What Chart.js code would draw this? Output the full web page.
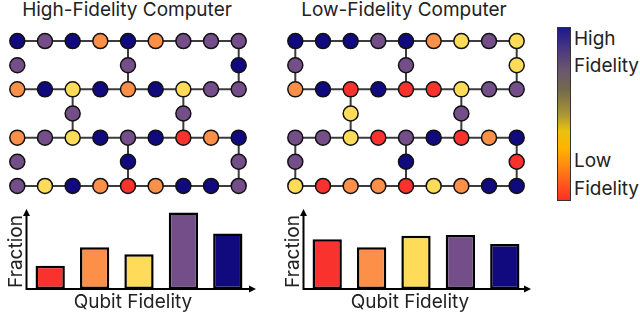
<!DOCTYPE html>
<html>
<head>
<meta charset="utf-8">
<script src="https://cdn.jsdelivr.net/npm/chart.js@4.4.0/dist/chart.umd.min.js"></script>
<style>
  body { margin:0; width:640px; height:330px; background:#fff; position:relative; overflow:hidden; font-family:Inter, "Noto Sans", sans-serif; color:#222; }
  canvas { position:absolute; }
  .lbl { position:absolute; font-size:19px; line-height:19px; white-space:nowrap; }
  .title { position:absolute; font-size:19px; line-height:19px; white-space:nowrap; transform:translateX(-50%); }
  #cbar { position:absolute; left:557px; top:27px; width:12px; height:172px; border:1px solid #333;
    background:linear-gradient(to bottom, #1c1a8c 0%, #4a3580 12%, #6a5570 24%, #736a4c 36%, #a99436 50%, #e9c20e 60%, #ffb300 70%, #ff8a10 80%, #ff5a1e 90%, #ff2e22 100%); }
</style>
</head>
<body>
<div class="title" style="left:127px; top:0;">High-Fidelity Computer</div>
<div class="title" style="left:404px; top:0;">Low-Fidelity Computer</div>
<canvas id="gridHigh" width="256" height="187" style="left:0; top:20px;"></canvas>
<canvas id="gridLow" width="256" height="187" style="left:278px; top:20px;"></canvas>
<canvas id="barHigh" width="262" height="122" style="left:0; top:200px;"></canvas>
<canvas id="barLow" width="262" height="122" style="left:277px; top:200px;"></canvas>
<div id="cbar"></div>
<div class="lbl" style="left:574px; top:29px;">High</div>
<div class="lbl" style="left:574px; top:56px;">Fidelity</div>
<div class="lbl" style="left:574px; top:151px;">Low</div>
<div class="lbl" style="left:574px; top:179px;">Fidelity</div>
<script>
// =======================
// Data
// =======================
// fidelity levels, low -> high
const levels = ['R', 'O', 'Y', 'P', 'N'];
const levelColors = ['#f9322d', '#fd9049', '#fedc59', '#744e89', '#110a7f'];

// which columns hold a qubit on each row of the lattice
const rowCols = [
  [0,1,2,3,4,5,6,7,8],
  [0,4,8],
  [0,1,2,3,4,5,6,7,8],
  [2,6],
  [0,1,2,3,4,5,6,7,8],
  [0,4,8],
  [0,1,2,3,4,5,6,7,8]
];

// qubit fidelity level per row (same order as rowCols)
const highRows = ['NPNONOPPP', 'PPN', 'ONYNONYPP', 'PP', 'OPYNPNRON', 'PNP', 'PYNORONNP'];
const lowRows  = ['NNNPNOYPY', 'PPY', 'ONRNRRYPP', 'YP', 'PPYRPNRON', 'PNR', 'YROORYONN'];

// couplers: full rows, plus vertical links [col, fromRow, toRow]
const couplerRows = [0, 2, 4, 6];
const highLinks = [[4,0,2],[8,0,2],[2,2,4],[6,2,4],[4,4,6],[8,4,6]];
const lowLinks  = [[0,0,2],[4,0,2],[8,0,2],[2,2,4],[6,2,4],[0,4,6],[4,4,6],[8,4,6]];

// fidelity histograms
const binLabels = ['Low', 'Mid-low', 'Mid', 'Mid-high', 'High'];
const highFractions = [0.10, 0.18, 0.15, 0.33, 0.24];
const lowFractions  = [0.215, 0.18, 0.23, 0.233, 0.194];

// =======================
// Lattice charts
// =======================
function buildGrid(canvasId, rows, links) {
  const pts = [], cols = [];
  rowCols.forEach((cs, r) => {
    cs.forEach((c, i) => {
      pts.push({ x: c, y: r });
      cols.push(levelColors[levels.indexOf(rows[r][i])]);
    });
  });

  const edgeSets = [];
  couplerRows.forEach(r => {
    edgeSets.push(rowCols[r].map(c => ({ x: c, y: r })));
  });
  links.forEach(([c, a, b]) => {
    const chain = [];
    for (let r = a; r <= b; r++) chain.push({ x: c, y: r });
    edgeSets.push(chain);
  });

  const datasets = [{
    type: 'scatter', data: pts, order: 0, clip: false,
    pointRadius: 7.5, pointHoverRadius: 7.5,
    pointBackgroundColor: cols, pointBorderColor: '#111', pointBorderWidth: 1.5
  }];
  edgeSets.forEach(chain => datasets.push({
    type: 'line', data: chain, order: 1, clip: false,
    borderColor: '#3c3c3c', borderWidth: 2, pointRadius: 0, fill: false
  }));

  new Chart(document.getElementById(canvasId), {
    type: 'scatter',
    data: { datasets },
    options: {
      responsive: false, animation: false,
      layout: { padding: 0 },
      plugins: { legend: { display: false }, tooltip: { enabled: false } },
      scales: {
        x: { type: 'linear', min: -0.3, max: 8.3, display: false },
        y: { type: 'linear', min: -0.5, max: 6.5, reverse: true, display: false }
      }
    }
  });
}

// =======================
// Arrow axes + titles for the histograms
// =======================
const arrowAxes = {
  id: 'arrowAxes',
  afterDatasetsDraw(chart, args, o) {
    const { ctx, chartArea: { left, right, top, bottom } } = chart;
    const x0 = left + o.axisShift;
    const xEnd = right + o.xReach;
    ctx.save();
    ctx.strokeStyle = '#000';
    ctx.fillStyle = '#000';
    ctx.lineWidth = 2;
    ctx.beginPath();
    ctx.moveTo(x0, bottom);
    ctx.lineTo(x0, top + 4);
    ctx.moveTo(x0 - 1, bottom);
    ctx.lineTo(xEnd - 4, bottom);
    ctx.stroke();
    ctx.beginPath();
    ctx.moveTo(x0, top - 2);
    ctx.lineTo(x0 - 3.5, top + 5);
    ctx.lineTo(x0 + 3.5, top + 5);
    ctx.closePath();
    ctx.fill();
    ctx.beginPath();
    ctx.moveTo(xEnd + 1, bottom);
    ctx.lineTo(xEnd - 6, bottom - 3.5);
    ctx.lineTo(xEnd - 6, bottom + 3.5);
    ctx.closePath();
    ctx.fill();

    ctx.fillStyle = '#222';
    ctx.font = '19px Inter, "Noto Sans", sans-serif';
    ctx.textAlign = 'center';
    ctx.textBaseline = 'alphabetic';
    ctx.fillText(o.xTitle, (left + right) / 2 + o.xTitleShift, bottom + 19);
    ctx.translate(x0 + o.yTitleShift, (top + bottom) / 2 + 1.5);
    ctx.rotate(-Math.PI / 2);
    ctx.fillText(o.yTitle, 0, 0);
    ctx.restore();
  }
};

function buildBars(canvasId, values, xReach, yTitleShift) {
  new Chart(document.getElementById(canvasId), {
    type: 'bar',
    data: {
      labels: binLabels,
      datasets: [{
        data: values,
        backgroundColor: levelColors,
        borderColor: '#000',
        borderWidth: 2.5,
        borderSkipped: false,
        categoryPercentage: 1,
        barPercentage: 0.66
      }]
    },
    options: {
      responsive: false, animation: false,
      layout: { padding: { left: 28, right: 12, top: 11, bottom: 33 } },
      plugins: {
        legend: { display: false }, tooltip: { enabled: false },
        arrowAxes: { axisShift: -1.5, xReach, xTitle: 'Qubit Fidelity', yTitle: 'Fraction', xTitleShift: -6, yTitleShift }
      },
      scales: {
        x: { display: false },
        y: { display: false, min: 0, max: 0.337 }
      }
    },
    plugins: [arrowAxes]
  });
}

buildGrid('gridHigh', highRows, highLinks);
buildGrid('gridLow', lowRows, lowLinks);
buildBars('barHigh', highFractions, 5, -4.5);
buildBars('barLow', lowFractions, 3, -5);
</script>
</body>
</html>
